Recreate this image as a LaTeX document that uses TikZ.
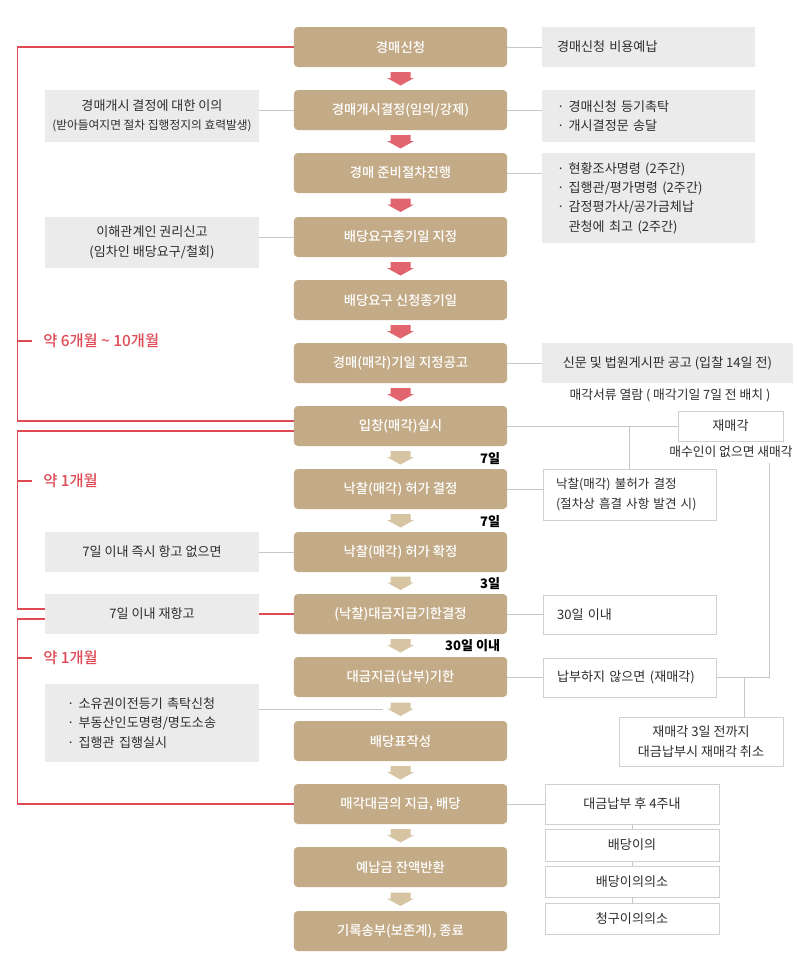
\documentclass[tikz,border=0pt]{standalone}
\usepackage{fontspec}
\setmainfont{Noto Sans CJK KR}
\newfontfamily\medfont{Noto Sans CJK KR Medium}
\usepackage{tikz}
\usetikzlibrary{calc}
\definecolor{mainTan}{RGB}{196,171,135}
\definecolor{arrowRed}{RGB}{226,100,110}
\definecolor{arrowTan}{RGB}{214,196,163}
\definecolor{boxGray}{RGB}{235,235,235}
\definecolor{lineGray}{RGB}{198,198,198}
\definecolor{borderGray}{RGB}{208,208,208}
\definecolor{spanRed}{RGB}{224,74,85}
\definecolor{textDark}{RGB}{45,45,45}

% block arrow between two steps, #4 names its midpoint
\newcommand{\stepdown}[4]{%
  \path ($(#1.south)!0.5!(#2.north)$) coordinate (#4);
  \fill[#3] ([shift={(-10,-6.5)}]#4) -- ++(20,0) -- ++(0,6) -- ++(3.5,0) -- ++(-13.5,7.5) -- ++(-13.5,-7.5) -- ++(3.5,0) -- cycle;}

\begin{document}
\begin{tikzpicture}[x=0.75pt, y=-0.75pt,
  stepbox/.style={fill=mainTan, text=white, rounded corners=3pt, minimum width=160pt, minimum height=30pt, inner sep=0pt, font=\medfont\fontsize{10pt}{11pt}\selectfont},
  sidebox/.style={fill=boxGray, text=textDark, inner sep=0pt, align=center, font=\fontsize{9.8pt}{14.5pt}\selectfont},
  outlinebox/.style={fill=white, draw=borderGray, line width=0.75pt, text=textDark, inner sep=0pt, align=center, font=\fontsize{9.8pt}{14.5pt}\selectfont},
  notetext/.style={text=textDark, inner sep=0pt, font=\fontsize{9.6pt}{11pt}\selectfont},
  daylabel/.style={anchor=east, inner sep=0pt, font=\bfseries\fontsize{9.8pt}{11pt}\selectfont},
  spanlabel/.style={anchor=west, text=spanRed, inner sep=0pt, font=\medfont\fontsize{11.5pt}{13pt}\selectfont},
  link/.style={draw=lineGray, line width=0.75pt},
  redline/.style={draw=spanRed, line width=1.1pt}]
	\fill[white] (0,0) rectangle (800,978);
	\useasboundingbox (0,0) rectangle (800,978);

	% main steps
	\node[stepbox] (n1) at (400.5,47) {경매신청};
	\node[stepbox] (n2) at (400.5,110) {경매개시결정(임의/강제)};
	\node[stepbox] (n3) at (400.5,173) {경매 준비절차진행};
	\node[stepbox] (n4) at (400.5,237) {배당요구종기일 지정};
	\node[stepbox] (n5) at (400.5,300) {배당요구 신청종기일};
	\node[stepbox] (n6) at (400.5,363) {경매(매각)기일 지정공고};
	\node[stepbox] (n7) at (400.5,426) {입창(매각)실시};
	\node[stepbox] (n8) at (400.5,489) {낙찰(매각) 허가 결정};
	\node[stepbox] (n9) at (400.5,552) {낙찰(매각) 허가 확정};
	\node[stepbox] (n10) at (400.5,614) {(낙찰)대금지급기한결정};
	\node[stepbox] (n11) at (400.5,677) {대금지급(납부)기한};
	\node[stepbox] (n12) at (400.5,741) {배당표작성};
	\node[stepbox] (n13) at (400.5,804) {매각대금의 지급, 배당};
	\node[stepbox] (n14) at (400.5,867) {예납금 잔액반환};
	\node[stepbox] (n15) at (400.5,931) {기록송부(보존계), 종료};

	\stepdown{n1}{n2}{arrowRed}{m1}
	\stepdown{n2}{n3}{arrowRed}{m2}
	\stepdown{n3}{n4}{arrowRed}{m3}
	\stepdown{n4}{n5}{arrowRed}{m4}
	\stepdown{n5}{n6}{arrowRed}{m5}
	\stepdown{n6}{n7}{arrowRed}{m6}
	\stepdown{n7}{n8}{arrowTan}{m7}
	\stepdown{n8}{n9}{arrowTan}{m8}
	\stepdown{n9}{n10}{arrowTan}{m9}
	\stepdown{n10}{n11}{arrowTan}{m10}
	\stepdown{n11}{n12}{arrowTan}{m11}
	\stepdown{n12}{n13}{arrowTan}{m12}
	\stepdown{n13}{n14}{arrowTan}{m13}
	\stepdown{n14}{n15}{arrowTan}{m14}

	\node[daylabel] (g7) at ([shift={(-7,-10)}]n8.north east) {7일};
	\node[daylabel] (g8) at ([shift={(-7,-10)}]n9.north east) {7일};
	\node[daylabel] (g9) at ([shift={(-7,-10)}]n10.north east) {3일};
	\node[daylabel] (g10) at ([shift={(-7,-11)}]n11.north east) {30일 이내};

	% left side
	\node[sidebox, minimum width=160.5pt, minimum height=39pt] (L1) at (152,116) {경매개시 결정에 대한 이의\\{\fontsize{8.8pt}{10pt}\selectfont (받아들여지면 절차 집행정지의 효력발생)}};
	\node[sidebox, minimum width=160.5pt, minimum height=38.25pt] (L2) at (152,242.5) {이해관계인 권리신고\\(임차인 배당요구/철회)};
	\node[sidebox, minimum width=160.5pt, minimum height=30pt] (L3) at (152,552) {7일 이내 즉시 항고 없으면};
	\node[sidebox, minimum width=160.5pt, minimum height=30pt] (L4) at (152,614) {7일 이내 재항고};
	\node[sidebox, align=left, text width=127.5pt, inner xsep=16.5pt, minimum height=58.5pt] (L5) at (152,723) {· 소유권이전등기 촉탁신청\\· 부동산인도명령/명도소송\\· 집행관 집행실시};

	% right side
	\node[sidebox, align=left, text width=137.25pt, inner xsep=11.25pt, minimum height=30pt] (R1) at (648.5,47) {경매신청 비용예납};
	\node[sidebox, align=left, text width=137.25pt, inner xsep=11.25pt, minimum height=39pt] (R2) at (648.5,116) {· 경매신청 등기촉탁\\· 개시결정문 송달};
	\node[sidebox, align=left, text width=137.25pt, inner xsep=11.25pt, minimum height=67.5pt] (R3) at (648.5,198) {· 현황조사명령 (2주간)\\· 집행관/평가명령 (2주간)\\· 감정평가사/공가금체납\\\phantom{· }관청에 최고 (2주간)};
	\node[sidebox, minimum width=188.25pt, minimum height=30pt] (R4) at (667.5,363) {신문 및 법원게시판 공고 (입찰 14일 전)};
	\node[notetext] (N1) at (670,395) {매각서류 열람 ( 매각기일 7일 전 배치 )};
	\node[outlinebox, minimum width=78.75pt, minimum height=22.5pt] (R5) at (730.5,426) {재매각};
	\node[notetext] (N2) at (731,452) {매수인이 없으면 새매각};
	\node[outlinebox, align=left, text width=110.25pt, inner xsep=9.75pt, minimum height=38.25pt, font=\fontsize{9.4pt}{14.5pt}\selectfont] (R6) at (629.5,494.5) {낙찰(매각) 불허가 결정\\(절차상 흠결 사항 발견 시)};
	\node[outlinebox, align=left, text width=108.75pt, inner xsep=10.5pt, minimum height=29.25pt] (R7) at (629.5,615) {30일 이내};
	\node[outlinebox, align=left, text width=108.75pt, inner xsep=10.5pt, minimum height=29.25pt] (R8) at (629.5,677.5) {납부하지 않으면 (재매각)};
	\node[outlinebox, minimum width=123pt, minimum height=36.75pt] (R9) at (701,741.5) {재매각 3일 전까지\\대금납부시 재매각 취소};
	\node[outlinebox, minimum width=130.5pt, minimum height=30pt] (R10) at (632,804) {대금납부 후 4주내};
	\node[outlinebox, minimum width=130.5pt, minimum height=24pt] (R11) at (632,845) {배당이의};
	\node[outlinebox, minimum width=130.5pt, minimum height=23.25pt] (R12) at (632,881.5) {배당이의의소};
	\node[outlinebox, minimum width=130.5pt, minimum height=23.25pt] (R13) at (632,918.5) {청구이의의소};

	% connectors
	\draw[link] (n1.east) -- (R1.west);
	\draw[link] (n2.east) -- (n2.east -| R2.west);
	\draw[link] (n3.east) -- (n3.east -| R3.west);
	\draw[link] (n6.east) -- (R4.west);
	\draw[link] (n7.east) -- (n7.east -| R5.west);
	\draw[link] (R6.north) -- (R6.north |- n7.east);
	\draw[link] (n8.east) -- (n8.east -| R6.west);
	\draw[link] (n10.east) -- (n10.east -| R7.west);
	\draw[link] (n11.east) -- (n11.east -| R8.west);
	\coordinate (resaleup) at (769,463);
	\draw[link] (R8.east) -| (resaleup);
	\coordinate (payjoin) at ($(R8.east)+(28,0)$);
	\draw[link] (payjoin) -- (payjoin |- R9.north);
	\draw[link] (n13.east) -- (R10.west);
	\draw[link] (R10.south) -- (R11.north);
	\draw[link] (R11.south) -- (R12.north);
	\draw[link] (R12.south) -- (R13.north);
	\draw[link] (n2.west) -- (n2.west -| L1.east);
	\draw[link] (n4.west) -- (n4.west -| L2.east);
	\draw[link] (n9.west) -- (L3.east);
	\draw[link] (L5.east |- m11) -- ($(m11)+(-18,0)$);
	\draw[redline] (n10.west) -- (L4.east);

	% time spans
	\coordinate (rail) at (17.5,0);
	\draw[redline] (n1.west) -- (n1.west -| rail) |- ($(n7.west)+(0,-5)$);
	\draw[redline] ($(n7.west)+(0,5)$) coordinate (r2) -- (r2 -| rail) |- ($(L4.west)+(0,-5)$);
	\draw[redline] ($(L4.west)+(0,5)$) coordinate (r3) -- (r3 -| rail) |- (n13.west);
	\node[spanlabel] (s1) at (43,341) {약 6개월 \textasciitilde{} 10개월};
	\node[spanlabel] (s2) at (43,481) {약 1개월};
	\node[spanlabel] (s3) at (43,658) {약 1개월};
	\draw[redline] (s1.west -| rail) -- ($(s1.west)+(-11,0)$);
	\draw[redline] (s2.west -| rail) -- ($(s2.west)+(-11,0)$);
	\draw[redline] (s3.west -| rail) -- ($(s3.west)+(-11,0)$);
\end{tikzpicture}
\end{document}
